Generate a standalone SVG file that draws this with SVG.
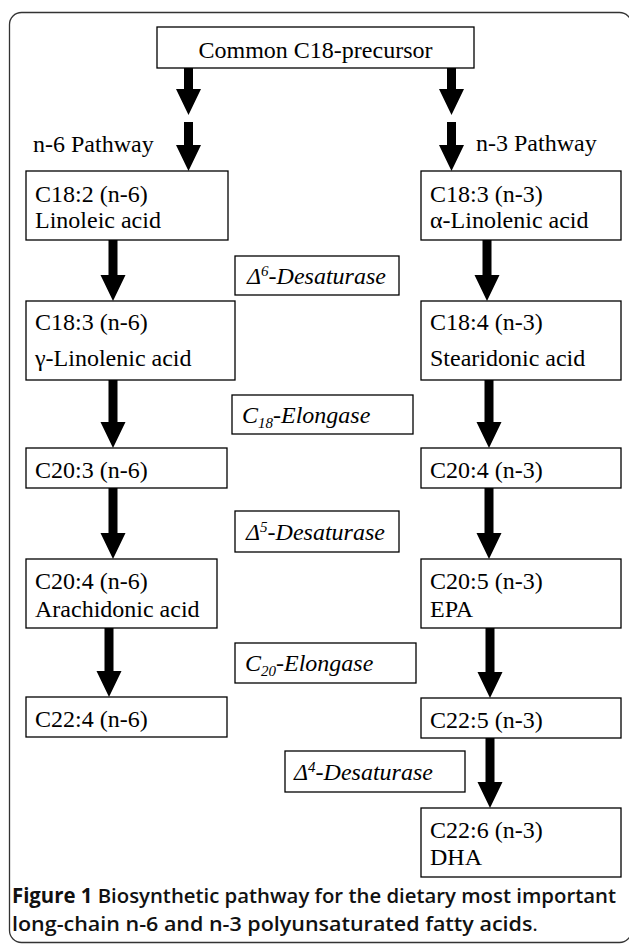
<svg xmlns="http://www.w3.org/2000/svg" width="629" height="947" viewBox="0 0 629 947">
<defs>
<style>
.box{fill:#fff;stroke:#000;stroke-width:1.3}
.t{font-family:"Liberation Serif","Times New Roman",serif;font-size:24px;fill:#000}
.e{font-family:"Liberation Serif","Times New Roman",serif;font-size:24px;font-style:italic;fill:#000}
.arr{fill:#000;stroke:none}
.cap{font-family:"Open Sans","Liberation Sans",sans-serif;font-size:20.5px;font-weight:600;fill:#111}
</style>
</defs>
<rect x="9.5" y="12.5" width="622" height="930" rx="12" ry="12" fill="#fff" stroke="#333" stroke-width="1.3"/>
<g id="connectors">
<polygon class="arr" points="184,68 193,68 193,89 201,89 188.5,115 176,89 184,89"/>
<polygon class="arr" points="184,122 193,122 193,145 201,145 188.5,171 176,145 184,145"/>
<polygon class="arr" points="447,68 456,68 456,89 464,89 451.5,115 439,89 447,89"/>
<polygon class="arr" points="447,122 456,122 456,145 464,145 451.5,171 439,145 447,145"/>
<polygon class="arr" points="108.5,240 117.5,240 117.5,275 125.5,275 113,301 100.5,275 108.5,275"/>
<polygon class="arr" points="108.5,380 117.5,380 117.5,422 125.5,422 113,448 100.5,422 108.5,422"/>
<polygon class="arr" points="108.5,488 117.5,488 117.5,533 125.5,533 113,559 100.5,533 108.5,533"/>
<polygon class="arr" points="104.5,628 113.5,628 113.5,671 121.5,671 109,697 96.5,671 104.5,671"/>
<polygon class="arr" points="482.5,240 491.5,240 491.5,275 499.5,275 487,301 474.5,275 482.5,275"/>
<polygon class="arr" points="484.5,380 493.5,380 493.5,422 501.5,422 489,448 476.5,422 484.5,422"/>
<polygon class="arr" points="484.5,488 493.5,488 493.5,533 501.5,533 489,559 476.5,533 484.5,533"/>
<polygon class="arr" points="485.5,628 494.5,628 494.5,672 502.5,672 490,698 477.5,672 485.5,672"/>
<polygon class="arr" points="485.5,738 494.5,738 494.5,782 502.5,782 490,808 477.5,782 485.5,782"/>
</g>
<g id="precursor"><rect class="box" x="157" y="27" width="317" height="41"/><text class="t" x="315.5" y="58" text-anchor="middle">Common C18-precursor</text></g>
<g id="label-n6"><text class="t" x="33" y="152">n-6 Pathway</text></g>
<g id="label-n3"><text class="t" x="476" y="151">n-3 Pathway</text></g>
<g id="c18-2"><rect class="box" x="26" y="171" width="202" height="69"/><text class="t" x="35" y="202">C18:2 (n-6)</text><text class="t" x="35" y="228">Linoleic acid</text></g>
<g id="c18-3n3"><rect class="box" x="421" y="171" width="200" height="69"/><text class="t" x="430" y="202">C18:3 (n-3)</text><text class="t" x="430" y="228">α-Linolenic acid</text></g>
<g id="d6"><rect class="box" x="235" y="256" width="164" height="39"/><text class="e" x="247" y="284">Δ<tspan font-size="15" dy="-8">6</tspan><tspan dy="8">-Desaturase</tspan></text></g>
<g id="c18-3n6"><rect class="box" x="26" y="301" width="209" height="79"/><text class="t" x="35" y="330">C18:3 (n-6)</text><text class="t" x="35" y="366">γ-Linolenic acid</text></g>
<g id="c18-4"><rect class="box" x="421" y="301" width="200" height="79"/><text class="t" x="430" y="330">C18:4 (n-3)</text><text class="t" x="430" y="366">Stearidonic acid</text></g>
<g id="c18elo"><rect class="box" x="232" y="395" width="181" height="39"/><text class="e" x="242" y="423">C<tspan font-size="15" dy="5">18</tspan><tspan dy="-5">-Elongase</tspan></text></g>
<g id="c20-3"><rect class="box" x="26" y="448" width="201" height="40"/><text class="t" x="35" y="478">C20:3 (n-6)</text></g>
<g id="c20-4n3"><rect class="box" x="421" y="448" width="200" height="40"/><text class="t" x="430" y="478">C20:4 (n-3)</text></g>
<g id="d5"><rect class="box" x="235" y="511" width="164" height="41"/><text class="e" x="246" y="540">Δ<tspan font-size="15" dy="-8">5</tspan><tspan dy="8">-Desaturase</tspan></text></g>
<g id="c20-4n6"><rect class="box" x="26" y="559" width="191" height="69"/><text class="t" x="35" y="589">C20:4 (n-6)</text><text class="t" x="35" y="617">Arachidonic acid</text></g>
<g id="c20-5"><rect class="box" x="421" y="559" width="200" height="69"/><text class="t" x="430" y="589">C20:5 (n-3)</text><text class="t" x="430" y="617">EPA</text></g>
<g id="c20elo"><rect class="box" x="235" y="643" width="181" height="40"/><text class="e" x="245" y="671">C<tspan font-size="15" dy="5">20</tspan><tspan dy="-5">-Elongase</tspan></text></g>
<g id="c22-4"><rect class="box" x="26" y="697" width="201" height="40"/><text class="t" x="35" y="727">C22:4 (n-6)</text></g>
<g id="c22-5"><rect class="box" x="421" y="698" width="200" height="40"/><text class="t" x="430" y="728">C22:5 (n-3)</text></g>
<g id="d4"><rect class="box" x="285" y="751" width="180" height="41"/><text class="e" x="294" y="780">Δ<tspan font-size="15" dy="-8">4</tspan><tspan dy="8">-Desaturase</tspan></text></g>
<g id="c22-6"><rect class="box" x="421" y="808" width="200" height="69"/><text class="t" x="430" y="838">C22:6 (n-3)</text><text class="t" x="430" y="865">DHA</text></g>
<g id="caption">
<text class="cap" x="12" y="903" textLength="604" lengthAdjust="spacingAndGlyphs"><tspan font-weight="700">Figure 1</tspan> Biosynthetic pathway for the dietary most important</text>
<text class="cap" x="12" y="931" textLength="526" lengthAdjust="spacingAndGlyphs">long-chain n-6 and n-3 polyunsaturated fatty acids<tspan font-weight="400">.</tspan></text>
</g>
</svg>
